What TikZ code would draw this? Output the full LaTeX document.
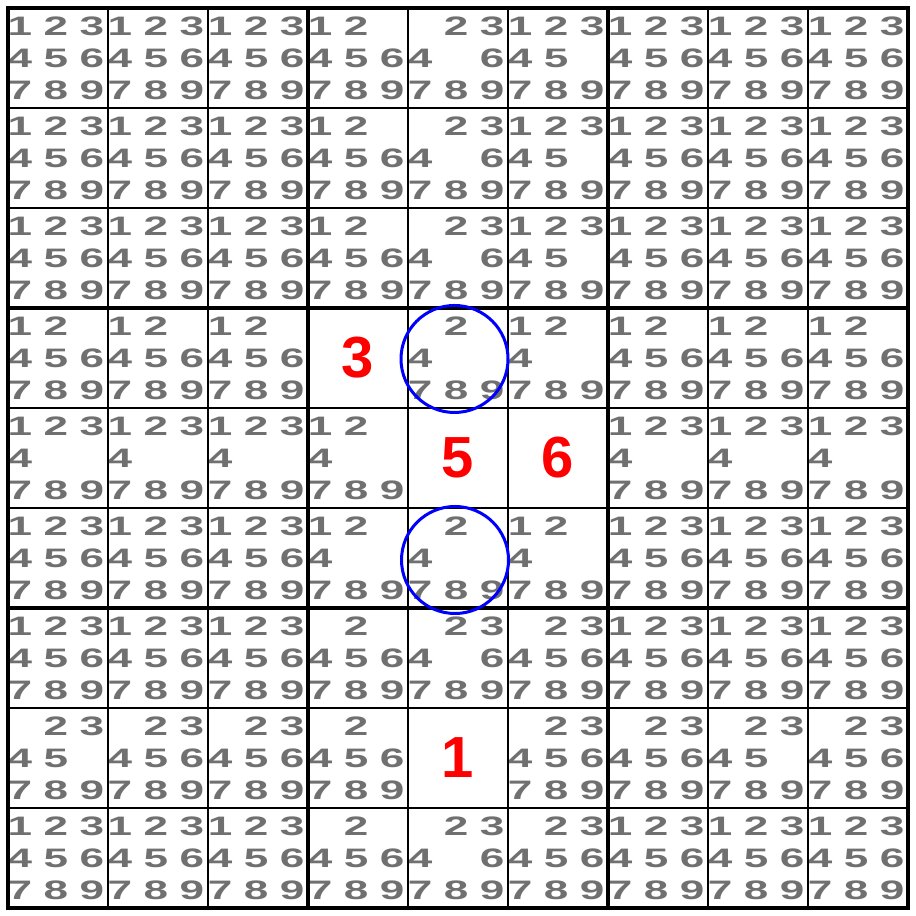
\documentclass[tikz,border=0pt]{standalone}
\usepackage{fontspec}
\setmainfont{Liberation Sans}
\usepackage{tikz}
\definecolor{candgray}{HTML}{707070}
\newcommand{\cands}[3]
{   \foreach \d in {#3}
    {   \pgfmathtruncatemacro{\ci}{mod(\d-1,3)}
        \pgfmathtruncatemacro{\ri}{(\d-1)/3}
        \node[cand] (c#1#2-\d) at ({#2-0.8+0.36*\ci},{9.08-(#1-1)-0.18-0.32*\ri}) {\d};
    }
}
\newcommand{\givendigit}[3]
{   \node[given] (g#1#2) at ({#2-0.42},{9.08-(#1-1)-0.5}) {#3};
}

\begin{document}
\begin{tikzpicture}[
    cand/.style={text=candgray, font=\bfseries\fontsize{7.6}{8}\selectfont, xscale=1.65, inner sep=0pt},
    given/.style={text=red, font=\bfseries\fontsize{16.5}{18}\selectfont, inner sep=0pt},
    ring/.style={draw=blue, line width=0.03cm},
    thinline/.style={line width=0.02cm},
    boxline/.style={line width=0.036cm}]

 \useasboundingbox (0,0) rectangle (9.16,9.16);

 % full cells
 \foreach \r in {1,2,3,6,7,9}
   \foreach \c in {1,2,3,7,8,9}
     {\cands{\r}{\c}{1,...,9}}
 \foreach \c in {1,2,3,7,8,9}
   {\cands{4}{\c}{1,2,4,5,6,7,8,9} \cands{5}{\c}{1,2,3,4,7,8,9}}
 \cands{8}{1}{2,3,4,5,7,8,9} \cands{8}{2}{2,...,9} \cands{8}{3}{2,...,9}
 \cands{8}{7}{2,...,9} \cands{8}{8}{2,3,4,5,7,8,9} \cands{8}{9}{2,...,9}

 % middle column of boxes
 \foreach \r in {1,2,3}
   {\cands{\r}{4}{1,2,4,5,6,7,8,9} \cands{\r}{5}{2,3,4,6,7,8,9} \cands{\r}{6}{1,2,3,4,5,7,8,9}}
 \givendigit{4}{4}{3} \cands{4}{5}{2,4,7,8,9} \cands{4}{6}{1,2,4,7,8,9}
 \cands{5}{4}{1,2,4,7,8,9} \givendigit{5}{5}{5} \givendigit{5}{6}{6}
 \cands{6}{4}{1,2,4,7,8,9} \cands{6}{5}{2,4,7,8,9} \cands{6}{6}{1,2,4,7,8,9}
 \foreach \r in {7,9}
   {\cands{\r}{4}{2,4,5,6,7,8,9} \cands{\r}{5}{2,3,4,6,7,8,9} \cands{\r}{6}{2,...,9}}
 \cands{8}{4}{2,4,5,6,7,8,9} \givendigit{8}{5}{1} \cands{8}{6}{2,...,9}

 % grid
 \foreach \i in {1,2,4,5,7,8}
   {\draw[thinline] (0.08+\i,0.08) -- (0.08+\i,9.08);
    \draw[thinline] (0.08,0.08+\i) -- (9.08,0.08+\i);}
 \foreach \i in {3,6}
   {\draw[boxline] (0.08+\i,0.08) -- (0.08+\i,9.08);
    \draw[boxline] (0.08,0.08+\i) -- (9.08,0.08+\i);}
 \draw[boxline] (0.08,0.08) rectangle (9.08,9.08);

 \draw[ring] (4.545,5.57) circle (0.535);
 \draw[ring] (4.55,3.56) circle (0.535);

\end{tikzpicture}
\end{document}
